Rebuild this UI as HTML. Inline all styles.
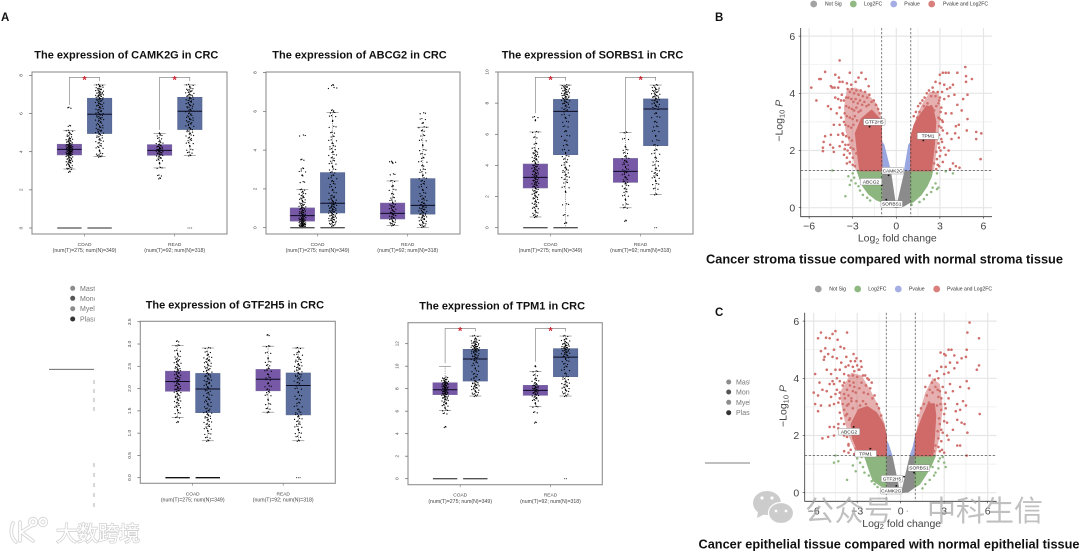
<!DOCTYPE html>
<html lang="zh">
<head>
<meta charset="utf-8">
<title>CRC expression and volcano panels</title>
<style>
html,body{margin:0;padding:0;background:#fff;width:1080px;height:552px;overflow:hidden}
#fig{display:block;filter:blur(.3px)}
text{font-family:"Liberation Sans","Noto Sans CJK SC",sans-serif}
</style>
</head>
<body>
<svg id="fig" xmlns="http://www.w3.org/2000/svg" width="1080" height="552" viewBox="0 0 1080 552">
<rect width="1080" height="552" fill="#fff"/>
<text x="1" y="21" font-size="11.5" font-weight="700" fill="#111">A</text>
<text x="715" y="21" font-size="11.5" font-weight="700" fill="#111">B</text>
<text x="715" y="316" font-size="11.5" font-weight="700" fill="#111">C</text>

<g id="boxplots"></g>
<g id="volcanoes"></g>

<g font-size="5.1" fill="#333">
<circle cx="813.7" cy="4" r="3.4" fill="#a3a3a3"/>
<text x="825" y="5.7">Not Sig</text>
<circle cx="853.3" cy="4" r="3.4" fill="#8fb882"/>
<text x="864" y="5.7">Log2FC</text>
<circle cx="893.7" cy="4" r="3.4" fill="#a4aee4"/>
<text x="904.3" y="5.7">Pvalue</text>
<circle cx="931.7" cy="4" r="3.4" fill="#d9807d"/>
<text x="943" y="5.7">Pvalue and Log2FC</text>
</g>
<g font-size="5.1" fill="#333">
<circle cx="818.3" cy="289" r="3.4" fill="#a3a3a3"/>
<text x="829.3" y="290.7">Not Sig</text>
<circle cx="857.7" cy="289" r="3.4" fill="#8fb882"/>
<text x="868.3" y="290.7">Log2FC</text>
<circle cx="898.3" cy="289" r="3.4" fill="#a4aee4"/>
<text x="909" y="290.7">Pvalue</text>
<circle cx="936.7" cy="289" r="3.4" fill="#d9807d"/>
<text x="947" y="290.7">Pvalue and Log2FC</text>
</g>

<text x="706" y="263.3" font-size="13" font-weight="700" fill="#111" textLength="357" lengthAdjust="spacingAndGlyphs">Cancer stroma tissue compared with normal stroma tissue</text>
<text x="698.5" y="548.3" font-size="13" font-weight="700" fill="#111" textLength="381" lengthAdjust="spacingAndGlyphs">Cancer epithelial tissue compared with normal epithelial tissue</text>

<defs>
<clipPath id="clip-left-frag"><rect x="60" y="280" width="34.7" height="45"/></clipPath>
<clipPath id="clip-right-frag"><rect x="720" y="375" width="30" height="45"/></clipPath>
</defs>
<g clip-path="url(#clip-left-frag)" font-size="7" fill="#777">
<circle cx="72.7" cy="288.3" r="2.5" fill="#8c8c8c"/>
<text x="80" y="290.8">Mast cells</text>
<circle cx="72.7" cy="298.3" r="2.5" fill="#555"/>
<text x="80" y="300.8">Monocytes</text>
<circle cx="72.7" cy="308.7" r="2.5" fill="#8c8c8c"/>
<text x="80" y="311.2">Myeloid</text>
<circle cx="72.7" cy="319" r="2.5" fill="#333"/>
<text x="80" y="321.5">Plasma</text>
</g>
<g clip-path="url(#clip-right-frag)" font-size="7" fill="#777">
<circle cx="728.7" cy="382" r="2.5" fill="#8c8c8c"/>
<text x="736" y="384.5">Mast cells</text>
<circle cx="728.7" cy="392" r="2.5" fill="#555"/>
<text x="736" y="394.5">Monocytes</text>
<circle cx="728.7" cy="402.3" r="2.5" fill="#8c8c8c"/>
<text x="736" y="404.8">Myeloid</text>
<circle cx="728.7" cy="412.7" r="2.5" fill="#333"/>
<text x="736" y="415.2">Plasma</text>
</g>
<line x1="49" y1="369.3" x2="94" y2="369.3" stroke="#555" stroke-width=".8"/>
<line x1="705" y1="463" x2="750" y2="463" stroke="#555" stroke-width=".8"/>
<line x1="94" y1="380" x2="94" y2="413" stroke="#aaa" stroke-width=".9" stroke-dasharray="4 5"/>
<line x1="94" y1="463" x2="94" y2="508" stroke="#aaa" stroke-width=".9" stroke-dasharray="4 6"/>

<g opacity=".72">
<ellipse cx="767" cy="503" rx="14" ry="12" fill="#b9b9b9"/>
<polygon points="758,511 757,518 765,514" fill="#b9b9b9"/>
<ellipse cx="781" cy="513" rx="12.5" ry="10.5" fill="#b9b9b9" stroke="#fff" stroke-width="1.2"/>
<circle cx="762" cy="498" r="1.6" fill="#fff"/>
<circle cx="772" cy="498" r="1.6" fill="#fff"/>
<circle cx="776" cy="511" r="1.4" fill="#fff"/>
<circle cx="786" cy="511" r="1.4" fill="#fff"/>
<text x="805" y="521" font-size="29" fill="#a8a8a8" textLength="88">公众号</text>
<text x="905" y="515" font-size="14" fill="#a8a8a8">·</text>
<text x="927" y="521" font-size="29" fill="#a8a8a8" textLength="116">中科生信</text>
</g>

<g>
<g fill="none" stroke="#d6d6d6" stroke-width="3.6" stroke-linecap="round">
<path d="M13 523 C10 530 11 538 16 542 M20 522 L20 541 M31 526 L21 532 L33 541"/>
<circle cx="33" cy="522" r="3.4"/>
<circle cx="43" cy="522" r="3.4"/>
</g>
<g fill="none" stroke="#fff" stroke-width="1.8" stroke-linecap="round">
<path d="M13 523 C10 530 11 538 16 542 M20 522 L20 541 M31 526 L21 532 L33 541"/>
<circle cx="33" cy="522" r="3.4"/>
<circle cx="43" cy="522" r="3.4"/>
</g>
<text x="56" y="541" font-size="21" fill="#fff" stroke="#cfcfcf" stroke-width="1.4" paint-order="stroke" textLength="84">大数跨境</text>
</g>
</svg>

<script>
/* ---------- shared categories ---------- */
const groupNames = ['COAD', 'READ'];
const sampleNotes = ['(num(T)=275; num(N)=349)', '(num(T)=92; num(N)=318)'];
const boxOrder = ['COAD tumor', 'COAD normal', 'READ tumor', 'READ normal'];

/* ---------- CAMK2G ---------- */
const camk2gTicks = ['0', '2', '4', '6', '8'];
const camk2gQ1 = [3.83, 4.95, 3.81, 5.16];
const camk2gMedian = [4.12, 5.96, 4.07, 6.12];
const camk2gQ3 = [4.39, 6.8, 4.37, 6.85];
const camk2gLow = [3.09, 3.74, 3.15, 3.8];
const camk2gHigh = [5.1, 7.5, 4.96, 7.5];
const camk2gBracket = [[6.45, 7.9, 7.7], [5.14, 7.9, 7.7]];
const camk2gDots0 = [2.95,3.09,3.15,3.25,3.3,3.4,3.45,3.5,3.55,3.6,3.65,3.7,3.75,3.8,3.82,3.85,3.88,3.9,3.93,3.96,3.98,4.0,4.03,4.05,4.08,4.1,4.12,4.15,4.18,4.2,4.22,4.25,4.28,4.3,4.33,4.36,4.4,4.45,4.5,4.55,4.6,4.65,4.7,4.8,4.9,5.0,5.1,5.35,6.3];
const camk2gDots1 = [3.74,3.8,3.9,4.05,4.2,4.3,4.45,4.55,4.65,4.75,4.85,4.92,5.0,5.08,5.15,5.25,5.32,5.4,5.5,5.6,5.68,5.75,5.82,5.9,5.96,6.02,6.1,6.18,6.25,6.33,6.4,6.46,6.52,6.58,6.64,6.7,6.75,6.8,6.85,6.9,6.94,6.98,7.02,7.06,7.1,7.14,7.2,7.25,7.3,7.38,7.45,7.5];
const camk2gDots2 = [2.6,2.75,3.15,3.4,3.55,3.65,3.72,3.8,3.85,3.9,3.95,4.0,4.03,4.07,4.1,4.15,4.2,4.25,4.3,4.37,4.45,4.55,4.7,4.85,4.96];
const camk2gDots3 = [3.8,3.95,4.1,4.3,4.45,4.6,4.72,4.85,4.95,5.05,5.15,5.25,5.35,5.45,5.55,5.65,5.72,5.8,5.9,6.0,6.12,6.2,6.3,6.38,6.45,6.52,6.6,6.68,6.75,6.82,6.9,6.95,7.0,7.08,7.15,7.22,7.3,7.4,7.5];

/* ---------- ABCG2 ---------- */
const abcg2Ticks = ['0', '2', '4', '6', '8'];
const abcg2Q1 = [0.34, 0.76, 0.45, 0.7];
const abcg2Median = [0.62, 1.26, 0.74, 1.15];
const abcg2Q3 = [1.02, 2.84, 1.27, 2.53];
const abcg2Low = [0, 0, 0.12, 0];
const abcg2High = [1.96, 5.94, 2.41, 5.18];
const abcg2Dots0 = [.02,.04,.06,.08,.1,.12,.14,.16,.18,.2,.22,.24,.27,.3,.33,.36,.39,.42,.45,.48,.52,.56,.6,.64,.68,.72,.76,.8,.85,.9,.95,1.0,1.05,1.1,1.16,1.22,1.3,1.38,1.46,1.55,1.65,1.75,1.85,1.96,2.35,2.7,2.9,3.05,3.5,4.75];
const abcg2Dots1 = [.1,.18,.25,.3,.35,.4,.45,.5,.55,.6,.65,.7,.75,.8,.85,.9,.95,1.0,1.05,1.1,1.15,1.2,1.26,1.3,1.38,1.45,1.55,1.65,1.8,1.95,2.1,2.25,2.4,2.55,2.7,2.85,3.0,3.15,3.3,3.45,3.6,3.75,3.9,4.05,4.2,4.35,4.5,4.7,4.9,5.2,5.5,5.75,5.94,6.05,7.2,7.35];
const abcg2Dots2 = [.12,.2,.28,.35,.42,.48,.55,.62,.7,.75,.82,.9,.98,1.05,1.12,1.2,1.3,1.4,1.55,1.75,1.95,2.15,2.41,2.75,3.35,3.4];
const abcg2Dots3 = [.05,.12,.2,.28,.35,.42,.5,.56,.62,.68,.74,.8,.86,.92,.98,1.04,1.1,1.15,1.22,1.3,1.4,1.5,1.62,1.78,1.95,2.1,2.25,2.4,2.55,2.7,2.85,3.0,3.2,3.4,3.6,3.8,4.0,4.25,4.5,4.75,5.0,5.18,5.4,5.6,5.9];

/* ---------- SORBS1 ---------- */
const sorbs1Ticks = ['0', '2', '4', '6', '8', '10'];
const sorbs1Q1 = [2.55, 4.69, 2.91, 5.27];
const sorbs1Median = [3.23, 7.47, 3.62, 7.62];
const sorbs1Q3 = [4.09, 8.24, 4.45, 8.27];
const sorbs1Low = [0.69, 0, 1.28, 2.14];
const sorbs1High = [6.15, 9.16, 6.12, 9.16];
const sorbs1Bracket = [[7.35, 9.66, 9.45], [6.23, 9.66, 9.45]];
const sorbs1Dots0 = [.69,.8,.95,1.1,1.25,1.35,1.5,1.6,1.7,1.85,1.95,2.05,2.15,2.25,2.35,2.45,2.55,2.62,2.7,2.78,2.85,2.92,3.0,3.08,3.15,3.23,3.3,3.38,3.45,3.52,3.6,3.68,3.75,3.82,3.9,3.98,4.05,4.15,4.25,4.35,4.45,4.55,4.65,4.75,4.85,4.95,5.1,5.4,5.8,6.15,6.9,7.1];
const sorbs1Dots1 = [.3,.8,1.5,2.3,2.6,2.9,3.1,3.25,3.4,3.55,3.7,3.85,4.0,4.2,4.4,4.6,4.8,5.0,5.3,5.6,5.9,6.2,6.5,6.8,7.05,7.25,7.47,7.6,7.72,7.84,7.95,8.02,8.1,8.18,8.24,8.3,8.36,8.42,8.48,8.54,8.6,8.66,8.72,8.78,8.84,8.9,8.96,9.02,9.08,9.16];
const sorbs1Dots2 = [.45,1.28,1.5,1.8,2.05,2.3,2.5,2.7,2.85,2.95,3.1,3.25,3.4,3.55,3.62,3.75,3.9,4.05,4.2,4.3,4.45,4.6,4.8,5.0,5.2,5.7,6.12];
const sorbs1Dots3 = [2.14,2.5,2.8,3.0,3.2,3.35,3.5,3.65,3.8,4.0,4.25,4.5,4.75,5.0,5.3,5.6,5.9,6.2,6.5,6.8,7.1,7.35,7.62,7.75,7.85,7.95,8.05,8.15,8.22,8.3,8.38,8.45,8.52,8.6,8.68,8.76,8.84,8.92,9.0,9.16];

/* ---------- GTF2H5 ---------- */
const gtf2h5Ticks = ['0.0', '0.5', '1.0', '1.5', '2.0', '2.5', '3.0', '3.5'];
const gtf2h5Q1 = [1.94, 1.46, 1.95, 1.41];
const gtf2h5Median = [2.16, 1.99, 2.21, 2.07];
const gtf2h5Q3 = [2.39, 2.34, 2.43, 2.35];
const gtf2h5Low = [1.35, 0.83, 1.47, 0.83];
const gtf2h5High = [2.97, 2.91, 2.95, 2.91];
const gtf2h5Dots0 = [1.25,1.35,1.45,1.52,1.58,1.62,1.68,1.72,1.76,1.8,1.84,1.88,1.92,1.95,1.98,2.0,2.03,2.06,2.09,2.12,2.16,2.19,2.22,2.25,2.28,2.31,2.34,2.37,2.4,2.43,2.46,2.5,2.54,2.58,2.62,2.66,2.72,2.78,2.85,2.97,3.06];
const gtf2h5Dots1 = [.83,.9,.98,1.05,1.1,1.15,1.2,1.25,1.3,1.34,1.38,1.42,1.46,1.5,1.55,1.6,1.65,1.7,1.75,1.8,1.85,1.9,1.95,1.99,2.03,2.07,2.11,2.15,2.19,2.23,2.27,2.3,2.34,2.38,2.42,2.46,2.5,2.54,2.58,2.62,2.66,2.7,2.76,2.82,2.91];
const gtf2h5Dots2 = [1.47,1.55,1.65,1.75,1.85,1.92,1.98,2.05,2.12,2.2,2.25,2.32,2.4,2.45,2.52,2.6,2.68,2.8,2.95,3.2];
const gtf2h5Dots3 = [.83,.92,1.0,1.08,1.14,1.2,1.26,1.32,1.38,1.42,1.47,1.53,1.6,1.68,1.76,1.84,1.92,2.0,2.07,2.13,2.18,2.23,2.27,2.31,2.35,2.39,2.43,2.47,2.51,2.55,2.6,2.65,2.7,2.76,2.82,2.91];

/* ---------- TPM1 ---------- */
const tpm1Ticks = ['0', '2', '4', '6', '8', '10', '12'];
const tpm1Q1 = [7.47, 8.68, 7.41, 9.07];
const tpm1Median = [7.91, 10.64, 7.85, 10.81];
const tpm1Q3 = [8.53, 11.5, 8.3, 11.56];
const tpm1Low = [6.07, 7.35, 6.4, 7.35];
const tpm1High = [9.99, 12.68, 9.54, 12.68];
const tpm1Bracket = [[10.25, 13.36, 13.1], [10.4, 13.36, 13.1]];
const tpm1Dots0 = [4.6,5.8,6.07,6.3,6.5,6.65,6.8,6.95,7.05,7.15,7.25,7.32,7.4,7.47,7.54,7.6,7.66,7.72,7.78,7.84,7.91,7.96,8.02,8.08,8.14,8.2,8.26,8.32,8.38,8.44,8.5,8.56,8.62,8.7,8.78,8.88,9.0];
const tpm1Dots1 = [7.35,7.5,7.65,7.8,7.92,8.05,8.15,8.25,8.35,8.45,8.55,8.68,8.85,9.05,9.3,9.55,9.8,10.05,10.3,10.5,10.64,10.75,10.85,10.95,11.05,11.15,11.25,11.32,11.38,11.44,11.5,11.56,11.62,11.68,11.74,11.8,11.88,11.96,12.04,12.12,12.2,12.3,12.45,12.68];
const tpm1Dots2 = [5.0,5.9,6.4,6.7,6.95,7.1,7.25,7.4,7.5,7.6,7.7,7.78,7.85,7.92,8.0,8.08,8.16,8.25,8.35,8.5,8.7,8.9,9.2,9.54,10.0];
const tpm1Dots3 = [7.35,7.55,7.75,7.9,8.05,8.2,8.35,8.5,8.65,8.85,9.07,9.35,9.65,9.95,10.2,10.45,10.65,10.81,10.95,11.05,11.15,11.25,11.35,11.42,11.5,11.56,11.62,11.7,11.78,11.86,11.95,12.05,12.15,12.28,12.42,12.68];

/* zero-expression samples under each box: count of dots, or -1 for a solid run */
const camk2gZeros = [-1, -1, 0, 3];
const abcg2Zeros = [-1, -1, 0, 0];
const sorbs1Zeros = [-1, -1, 0, 2];
const gtf2h5Zeros = [-1, -1, 0, 3];
const tpm1Zeros = [-1, -1, 0, 2];

/* ---------- volcano B ---------- */
const volcanoXTicks = [-6, -3, 0, 3, 6];
const volcanoYTicks = [0, 2, 4, 6];
const volcanoXMinor = [-4.5, -1.5, 1.5, 4.5];
const volcanoYMinor = [1, 3, 5];
const thresholdFc = [-1, 1];
const thresholdP = [1.3];

const bGrayCloud = [[-1,1.3],[-.4,1.3],[-.05,.1],[.05,.1],[.6,1.3],[1,1.3],[1,.2],[.5,.05],[0,0],[-.5,.05],[-1,.25]];
const bBlueCloudLeft = [[-1,2.3],[-.85,2.2],[-.4,1.3],[-1,1.3]];
const bBlueCloudRight = [[1,2.3],[.85,2.2],[.55,1.3],[1,1.3]];
const bGreenCloudLeft = [[-1,1.3],[-2.7,1.3],[-2.5,1.0],[-2.27,.73],[-1.9,.48],[-1.35,.27],[-1,.2]];
const bGreenCloudRight = [[1,1.3],[2.5,1.3],[2.4,1.08],[2.1,.75],[1.7,.45],[1.2,.22],[1,.15]];
const bRedHaloLeft = [[-1,1.3],[-2.8,1.3],[-3.1,2],[-3.5,2.7],[-3.6,3.5],[-3.4,4.15],[-2.8,4.2],[-2,4.0],[-1.3,3.6],[-1,3.1]];
const bRedHaloRight = [[1,1.3],[2.6,1.3],[2.9,2.5],[3.05,3.4],[2.9,4.05],[2.3,4.05],[1.7,3.55],[1.3,3.05],[1,2.45]];
const bRedCloudLeft = [[-1,1.3],[-2.5,1.3],[-2.65,1.9],[-2.8,2.6],[-2.4,3.1],[-1.7,3.4],[-1.05,3.05]];
const bRedCloudRight = [[1,1.3],[2.4,1.3],[2.6,2.2],[2.7,3.0],[2.5,3.5],[2.1,3.55],[1.6,3.2],[1.25,2.9],[1,2.45]];
const bRedPoints = [[-3.9,5.15],[-4.9,4.75],[-4.2,4.65],[-3.95,4.55],[-3.2,4.72],[-2.4,4.72],[-5.3,4.5],[-5.2,4.5],[-5.85,4.2],[-4.5,4.25],[-4.4,4.2],[-4.25,4.2],[-4,4.2],[-3.9,4.4],[-3.7,4.4],[-3.4,4.35],[-3.1,4.3],[-2.8,4.4],[-2.6,4.55],[-2.1,4.5],[-1.9,4.25],[-5.5,3.75],[-4.7,3.55],[-4.5,3.45],[-4.2,3.85],[-4.0,3.8],[-3.8,3.75],[-3.9,3.5],[-4.1,3.3],[-3.8,3.15],[-3.9,2.9],[-4.3,2.9],[-4.5,2.55],[-4.9,2.5],[-5.0,2.3],[-5.05,2.1],[-5.05,1.98],[-4.55,2.2],[-4.35,2.1],[-4.3,1.95],[-3.9,2.15],[-3.6,1.85],[-3.4,1.75],[-3.2,1.6],[-3.0,1.5],[-3.7,2.6],[-3.6,3.0],[-3.55,3.3],[-3.7,2.3],[-3.5,2.2],[-3.2,1.9],[-4.0,2.55],[-3.3,2.2],[-3.6,3.75],[-3.75,3.95],[-3.45,3.85],
[-3.35,4.15],[-3.2,4.05],[-3.05,4.15],[-2.9,4.0],[-2.75,4.1],[-2.6,3.95],[-2.45,4.1],[-2.3,3.9],[-2.15,4.05],[-2.0,3.85],[-1.85,3.95],[-1.7,3.7],[-1.55,3.75],[-1.4,3.6],[-1.25,3.45],[-1.15,3.3],[-3.3,3.85],[-3.1,3.8],[-2.95,3.7],[-2.8,3.8],[-2.65,3.65],[-2.5,3.75],[-2.35,3.6],[-2.2,3.7],[-2.05,3.55],[-1.9,3.6],[-3.45,3.55],[-3.25,3.5],[-3.05,3.45],[-2.9,3.4],[-2.75,3.5],[-2.6,3.35],[-2.45,3.4],[-3.4,3.2],[-3.2,3.15],[-3.0,3.1],[-2.85,3.2],[-2.7,3.05],[-3.5,2.9],[-3.3,2.85],[-3.1,2.8],[-2.95,2.9],[-3.65,2.55],[-3.45,2.5],[-3.25,2.45],[-3.05,2.35],[-3.55,2.05],[-3.35,2.0],[-3.15,2.1],[-2.95,2.05],[-3.4,1.55],[-3.0,1.75],[-2.85,1.45],[-2.75,1.9],
[4.75,4.92],[3.2,4.72],[3.4,4.72],[3.6,4.72],[4.2,4.72],[3.0,4.65],[4.8,4.6],[5.2,4.5],[4.8,4.4],[3.9,4.3],[3.7,4.2],[3.5,4.15],[3.3,4.3],[3.0,4.35],[2.7,4.4],[2.5,4.2],[4.9,3.95],[4.6,3.8],[4.2,3.6],[4.0,3.95],[3.6,3.9],[3.3,3.8],[3.1,3.5],[3.4,3.3],[3.8,3.3],[4.5,3.4],[4.9,3.1],[4.3,2.9],[4.1,2.85],[4.05,2.6],[3.8,2.4],[3.5,2.6],[4.85,2.7],[5.5,2.65],[5.85,2.6],[5.5,2.4],[5.8,1.7],[3.3,2.1],[3.6,2.0],[3.9,1.55],[4.1,1.45],[4.35,1.4],[3.7,1.35],[2.95,2.1],[3.0,1.8],[3.2,1.6],[2.85,1.5],[2.75,1.35],[3.4,1.85],[4.3,2.45],[3.1,2.8],[3.0,3.1],[3.2,3.0],[3.1,2.4],[2.95,3.75],[3.15,4.05],
[1.2,3.2],[1.35,3.35],[1.5,3.55],[1.65,3.65],[1.8,3.75],[1.95,3.85],[2.1,4.0],[2.25,4.1],[2.4,3.9],[2.55,4.05],[2.7,3.9],[2.85,4.05],[3.0,3.85],[2.9,3.65],[2.75,3.55],[3.05,3.35],[2.9,3.15],[3.15,3.05],[2.95,2.85],[3.2,2.7],[2.95,2.55],[3.15,2.3],[2.9,2.25],[2.75,1.95],[3.05,2.0],[2.8,1.7],[2.6,1.55],[2.95,1.45],[1.45,3.15],[1.6,3.35],[1.9,3.55],[2.15,3.65],[2.4,3.55],[2.6,3.4]];
const bGreenPoints = [[-3.5,.4],[-3.2,.8],[-3.1,.95],[-2.9,1.05],[-3,1.2],[-2.8,.85],[-2.6,.75],[-2.5,.6],[-2.3,.45],[-2,.35],[-1.8,.25],[-3.3,1.1],[-4.4,1.3],[2.8,1.2],[2.7,.85],[2.9,.7],[2.8,.65],[2.5,.7],[2.4,.55],[2.1,.45],[1.9,.3],[1.6,.2],[3.4,1.27],[3.9,1.2],[1.05,.1]];
const bCallouts = ['GTF2H5', 'TPM1', 'CAMK2G', 'ABCG2', 'SORBS1'];
const bCalloutFc = [-1.84, 1.86, -.53, -1.0, -.69];
const bCalloutP = [2.83, 2.35, 1.13, .78, .28];

/* ---------- volcano C ---------- */
const cGrayCloud = [[-1,1.3],[-.6,1.3],[-.1,.1],[.1,.1],[.65,1.3],[1,1.3],[1,.2],[.5,.02],[0,0],[-.5,.05],[-1,.25]];
const cBlueCloudLeft = [[-1,1.85],[-.85,1.7],[-.6,1.3],[-1,1.3]];
const cBlueCloudRight = [[1,1.95],[.85,1.6],[.65,1.3],[1,1.3]];
const cGreenCloudLeft = [[-1,1.3],[-2.5,1.3],[-2.3,1.0],[-2.1,.7],[-1.9,.42],[-1.4,.25],[-1,.15]];
const cGreenCloudRight = [[1,1.3],[2.4,1.3],[2.1,.95],[1.7,.6],[1.3,.3],[1,.2]];
const cRedHaloLeft = [[-1,1.3],[-3,1.3],[-3.6,2],[-4,2.8],[-4.2,3.5],[-3.4,4.2],[-2.7,4.1],[-2.1,3.6],[-1.5,3],[-1.1,2.4],[-1,2.05]];
const cRedHaloRight = [[1,1.3],[2.4,1.3],[2.7,2],[2.9,3],[2.7,3.8],[2.2,4],[1.7,3.5],[1.3,2.8],[1.05,2.05]];
const cRedCloudLeft = [[-1,1.3],[-2.8,1.3],[-3.3,1.9],[-3.4,2.4],[-2.9,2.9],[-2.3,3.0],[-1.7,2.8],[-1.2,2.4],[-1,2.0]];
const cRedCloudRight = [[1,1.3],[2.2,1.3],[2.3,1.9],[2.4,2.7],[2.3,3.1],[1.9,3.1],[1.4,2.5],[1.05,2.0]];
const cRedPoints = [[-4.5,5.65],[-4.7,5.55],[-5.5,5.6],[-5.15,5.42],[-5.7,5.4],[-4.9,5.4],[-3.7,5.6],[-4.35,5.35],[-4.15,5.1],[-3.9,5.05],[-5.2,5.05],[-4.6,5.0],[-5.5,4.95],[-5.25,4.75],[-5.3,4.65],[-5.0,4.85],[-4.7,4.75],[-4.4,4.7],[-4.1,4.55],[-3.75,4.75],[-3.25,4.85],[-3.15,4.6],[-3.6,4.45],[-3.3,4.4],[-3.0,4.45],[-2.9,4.3],[-2.6,4.1],[-2.2,3.95],[-2,3.85],[-5.9,4.15],[-5.1,4.3],[-4.8,4.15],[-4.5,4.3],[-4.2,4.3],[-3.9,4.15],[-3.6,4.1],[-3.3,4.1],[-5.6,3.85],[-4.9,3.8],[-4.6,3.8],[-4.2,3.9],[-3.9,3.85],[-3.5,3.75],[-3.2,3.7],[-6,3.5],[-5.7,3.4],[-5.4,3.6],[-5.1,3.55],[-4.8,3.35],[-4.5,3.45],[-4.2,3.5],[-3.9,3.45],[-3.6,3.4],[-3.3,3.55],[-5.9,3.1],[-5.5,3.05],[-5.7,2.85],[-4.9,3.05],[-4.6,3.1],[-4.3,3.15],[-4,3.1],[-3.7,3.05],[-3.4,3.2],[-4.2,2.8],[-3.8,2.7],[-3.5,2.6],[-3.3,2.4],[-3.9,2.4],[-3.4,2.1],[-3.2,1.9],[-4.9,2.3],[-4.6,2.3],[-4.3,2.25],[-5.4,1.9],[-5.0,1.95],[-4.6,2.0],[-3.9,2.0],[-3.6,1.7],[-3.9,1.45],[-3.6,1.4],[-3.1,1.55],[-2.9,1.45],
[-4.4,3.6],[-4.2,3.3],[-4.0,3.75],[-3.85,3.3],[-3.7,3.6],[-3.55,3.9],[-3.4,3.3],[-3.25,3.85],[-3.1,3.5],[-3.0,4.05],[-2.85,3.65],[-2.7,3.85],[-2.55,3.5],[-2.4,3.75],[-2.25,3.45],[-2.1,3.65],[-1.95,3.3],[-1.8,3.4],[-1.65,3.1],[-1.5,2.95],[-1.35,2.7],[-3.6,3.1],[-3.3,2.95],[-3.05,3.2],[-2.8,3.05],[-2.6,3.2],[-2.4,3.1],[-3.9,2.9],[-3.7,2.75],[-3.55,2.55],[-4.1,2.6],[-4.3,2.4],[-2.85,4.3],[-2.7,4.4],[-3.05,4.7],[-2.75,4.6],[-3.45,4.6],[-2.45,4.1],[-2.3,4.0],[-3.8,4.4],[-3.2,4.25],[-4.7,3.9],[-4.4,4.0],[-3.8,2.2],[-3.7,1.95],[-3.6,1.65],[-3.45,1.5],[-3.2,1.35],[-3.5,2.2],
[4.75,5.95],[4.6,5.6],[5.4,5.4],[4.55,5.0],[3.3,5.0],[3.5,5.0],[3,4.85],[2.75,4.9],[3.1,4.8],[3.7,4.8],[4.5,4.75],[4.2,4.7],[3.9,4.55],[3.4,4.55],[3.1,4.4],[2.8,4.4],[2.5,4.25],[5.4,4.45],[5.25,4.3],[3.7,4.35],[3.3,4.2],[3,4.15],[2.6,4],[4.55,3.9],[4.7,3.65],[4.1,3.7],[3.4,3.8],[2.9,3.7],[2.55,3.6],[3.1,3.5],[3.6,3.55],[4.3,3.2],[4.5,3.05],[3.9,3.1],[3.3,3.3],[2.8,3.3],[3.8,2.85],[4.1,2.9],[3.1,2.95],[2.8,2.9],[5.45,2.75],[3.9,2.55],[4.2,2.45],[4.4,2.4],[3,2.5],[3.2,2.45],[2.7,2.4],[3.6,2.2],[2.9,2.1],[3.2,2.0],[4.6,2.1],[3.3,1.85],[2.8,1.8],[2.6,1.6],[2.85,1.5],[3.9,1.65],[4.1,1.65],[4.55,1.3],[3,1.4],
[1.2,2.7],[1.4,2.95],[1.6,3.1],[1.8,3.4],[2.0,3.6],[2.2,3.5],[2.4,3.7],[2.6,3.35],[2.75,3.1],[2.65,2.6],[2.8,2.2],[2.55,2.15],[2.4,1.65],[2.6,1.9],[2.3,1.45],[2.7,1.45],[2.5,3.05],[2.15,3.85],[1.95,3.15],[2.35,3.95],[2.0,4.1],[1.7,3.7],[2.7,3.55],[3.0,2.75],[3.05,3.1]];
const cGreenPoints = [[-4.6,1.05],[-4.3,1.1],[-4.5,1.3],[-3.7,.45],[-3.3,.95],[-3,1.2],[-2.8,1.05],[-2.6,.9],[-2.5,.7],[-2.2,.6],[-2,.4],[-1.8,.3],[-1.6,.2],[-3.1,.75],[-2.7,1.25],[2.7,1.2],[2.9,1.25],[3,1.05],[3.1,.9],[2.6,.85],[2.4,.7],[2.3,.6],[2,.45],[1.7,.3],[1.5,.15],[2.2,.9],[2.6,1.1]];
const cCallouts = ['ABCG2', 'TPM1', 'SORBS1', 'GTF2H5', 'CAMK2G'];
const cCalloutFc = [-3.24, -2.09, .92, .23, -.3];
const cCalloutP = [2.3, 1.54, .7, .56, .24];

/* ---------- layout (pixels) ---------- */
const boxLayout = [
  {id:'camk2g', title:'The expression of CAMK2G in CRC', tx:34.3, tw:184, ty:58.7, l:32, r:227, t:72, b:234, y0:228, unit:19.08, c:[84.5,174.7], ticks:camk2gTicks, q1:camk2gQ1, med:camk2gMedian, q3:camk2gQ3, lo:camk2gLow, hi:camk2gHigh, zeros:camk2gZeros, bracket:camk2gBracket, dots:[camk2gDots0,camk2gDots1,camk2gDots2,camk2gDots3], tickSpan:2},
  {id:'abcg2', title:'The expression of ABCG2 in CRC', tx:272.3, tw:174.4, ty:58.7, l:266, r:460, t:72, b:234, y0:227.7, unit:19.4, c:[317.5,407.7], ticks:abcg2Ticks, q1:abcg2Q1, med:abcg2Median, q3:abcg2Q3, lo:abcg2Low, hi:abcg2High, zeros:abcg2Zeros, bracket:null, dots:[abcg2Dots0,abcg2Dots1,abcg2Dots2,abcg2Dots3], tickSpan:2},
  {id:'sorbs1', title:'The expression of SORBS1 in CRC', tx:501.7, tw:181.6, ty:58.7, l:498, r:693, t:72, b:234, y0:227.7, unit:15.57, c:[550.5,640.6], ticks:sorbs1Ticks, q1:sorbs1Q1, med:sorbs1Median, q3:sorbs1Q3, lo:sorbs1Low, hi:sorbs1High, zeros:sorbs1Zeros, bracket:sorbs1Bracket, dots:[sorbs1Dots0,sorbs1Dots1,sorbs1Dots2,sorbs1Dots3], tickSpan:2},
  {id:'gtf2h5', title:'The expression of GTF2H5 in CRC', tx:145.7, tw:178.3, ty:308.7, l:140.3, r:335.3, t:321.3, b:483.3, y0:477.7, unit:44.56, c:[192.7,283.2], ticks:gtf2h5Ticks, q1:gtf2h5Q1, med:gtf2h5Median, q3:gtf2h5Q3, lo:gtf2h5Low, hi:gtf2h5High, zeros:gtf2h5Zeros, bracket:null, dots:[gtf2h5Dots0,gtf2h5Dots1,gtf2h5Dots2,gtf2h5Dots3], tickSpan:.5},
  {id:'tpm1', title:'The expression of TPM1 in CRC', tx:419.3, tw:165.7, ty:309.3, l:408, r:602.3, t:322.7, b:484.7, y0:478.7, unit:11.25, c:[460.2,550.5], ticks:tpm1Ticks, q1:tpm1Q1, med:tpm1Median, q3:tpm1Q3, lo:tpm1Low, hi:tpm1High, zeros:tpm1Zeros, bracket:tpm1Bracket, dots:[tpm1Dots0,tpm1Dots1,tpm1Dots2,tpm1Dots3], tickSpan:2}
];
const volcanoLayout = [
  {id:'b', l:800.7, r:992, t:28, b:216.7, x0:896.3, xu:14.53, y0:207.7, yu:28.6, ytx:782.5, yty:120.7, xtx:897.3, xty:241.5,
   gray:bGrayCloud, blue:[bBlueCloudLeft,bBlueCloudRight], green:[bGreenCloudLeft,bGreenCloudRight], halo:[bRedHaloLeft,bRedHaloRight], red:[bRedCloudLeft,bRedCloudRight], redPts:bRedPoints, greenPts:bGreenPoints,
   names:bCallouts, fc:bCalloutFc, p:bCalloutP, boxes:[[874.3,122],[928,136],[892.7,170.7],[871,181.7],[891.7,204]]},
  {id:'c', l:804.7, r:996.7, t:312.7, b:501.3, x0:900.7, xu:14.5, y0:492.7, yu:28.6, ytx:786.5, yty:406, xtx:901.7, xty:527,
   gray:cGrayCloud, blue:[cBlueCloudLeft,cBlueCloudRight], green:[cGreenCloudLeft,cGreenCloudRight], halo:[cRedHaloLeft,cRedHaloRight], red:[cRedCloudLeft,cRedCloudRight], redPts:cRedPoints, greenPts:cGreenPoints,
   names:cCallouts, fc:cCalloutFc, p:cCalloutP, boxes:[[849,431.7],[865.7,453.7],[919,468],[892,478.7],[891.3,490.7]]}
];

const SVGNS = 'http://www.w3.org/2000/svg';
function mk(tag, attrs, parent, txt) {
  const node = document.createElementNS(SVGNS, tag);
  for (const k in attrs) node.setAttribute(k, attrs[k]);
  if (txt !== undefined) node.textContent = txt;
  parent.appendChild(node);
  return node;
}

function drawBoxPanel(cfg) {
  const root = mk('g', {}, document.getElementById('boxplots'));
  
  
  const yScale = v => cfg.y0 - v * cfg.unit;
  const xCenter = i => cfg.c[Math.floor(i / 2)] + (i % 2 === 0 ? -15.1 : 15.1);

  const title = mk('text', {x:cfg.tx, y:cfg.ty, 'font-size':11, 'font-weight':700, fill:'#111', textLength:cfg.tw, lengthAdjust:'spacingAndGlyphs'}, root, cfg.title);
  
  

  const frame = mk('rect', {x:cfg.l, y:cfg.t, width:cfg.r - cfg.l, height:cfg.b - cfg.t, fill:'#fff', stroke:'#8f8f8f', 'stroke-width':1.1}, root);
  
  

  cfg.ticks.forEach((label, i) => {
    const y = yScale(i * cfg.tickSpan);
    const tick = mk('line', {x1:cfg.l - 3, x2:cfg.l, y1:y, y2:y, stroke:'#666', 'stroke-width':.7}, root);
    
    
    const tx = mk('text', {x:cfg.l - 10, y:y, 'font-size':4.8, fill:'#444', 'text-anchor':'middle', 'dominant-baseline':'central', transform:'rotate(-90 ' + (cfg.l - 10) + ' ' + y + ')'}, root, label);
    
    
  });

  groupNames.forEach((name, g) => {
    const x = cfg.c[g];
    const tick = mk('line', {x1:x, x2:x, y1:cfg.b, y2:cfg.b + 2.5, stroke:'#777', 'stroke-width':.6}, root);
    
    
    const lab = mk('text', {x:x, y:cfg.b + 12, 'font-size':4.8, fill:'#444', 'text-anchor':'middle'}, root, name);
    
    
    const note = mk('text', {x:x, y:cfg.b + 18.2, 'font-size':5.2, fill:'#444', 'text-anchor':'middle'}, root, sampleNotes[g]);
    
    
  });

  boxOrder.forEach((label, i) => {
    const cx = xCenter(i);
    const half = 12.2;
    const isTumor = i % 2 === 0;
    const group = mk('g', {}, root);
    
    

    const whiskers = [[cfg.q3[i], cfg.hi[i]], [cfg.q1[i], cfg.lo[i]]];
    whiskers.forEach(pair => {
      const w = mk('line', {x1:cx, x2:cx, y1:yScale(pair[0]), y2:yScale(pair[1]), stroke:'#666', 'stroke-width':.6, 'stroke-dasharray':'1.2 1'}, group);
      
      
      const cap = mk('line', {x1:cx - 6, x2:cx + 6, y1:yScale(pair[1]), y2:yScale(pair[1]), stroke:'#8a8a8a', 'stroke-width':.7}, group);
      
      
    });

    const box = mk('rect', {x:cx - half, y:yScale(cfg.q3[i]), width:half * 2, height:yScale(cfg.q1[i]) - yScale(cfg.q3[i]), fill:isTumor ? '#7658a6' : '#5c6f9f', stroke:isTumor ? '#7a6aa0' : '#56668f', 'stroke-width':.6}, group);
    
    

    const spread = isTumor ? 7 : 8.5;
    cfg.dots[i].forEach((v, k) => {
      const j = (((k + 1) * 0.618034) % 1 - 0.5) * spread;
      [[1, 0], [-1, .5], [.35, -.5]].forEach(copy => {
        const dot = mk('circle', {cx:cx + j * copy[0], cy:yScale(v) + copy[1], r:.62, fill:'#000'}, group);
        
        
      });
    });

    const med = mk('line', {x1:cx - half, x2:cx + half, y1:yScale(cfg.med[i]), y2:yScale(cfg.med[i]), stroke:'#0b0b20', 'stroke-width':1}, group);
    
    

    if (cfg.zeros[i] < 0) {
      const run = mk('line', {x1:cx - half, x2:cx + half, y1:yScale(0), y2:yScale(0), stroke:cfg.id === 'gtf2h5' ? '#111' : '#555', 'stroke-width':1.3}, group);
      
      
    } else {
      for (let z = 0; z < cfg.zeros[i]; z++) {
        const zd = mk('circle', {cx:cx - (cfg.zeros[i] - 1) * .9 + z * 1.8, cy:yScale(0), r:.55, fill:'#333'}, group);
        
        
      }
    }
  });

  if (cfg.bracket) {
    cfg.bracket.forEach((b, g) => {
      const xa = xCenter(g * 2);
      const xb = xCenter(g * 2 + 1);
      const br = mk('polyline', {points:xa + ',' + yScale(b[0]) + ' ' + xa + ',' + yScale(b[1]) + ' ' + xb + ',' + yScale(b[1]) + ' ' + xb + ',' + yScale(b[2]), fill:'none', stroke:'#777', 'stroke-width':.6}, root);
      
      
      const star = mk('text', {x:(xa + xb) / 2, y:yScale(b[1]) + 6, 'font-size':11, 'font-weight':700, fill:'#d02b38', 'text-anchor':'middle'}, root, '*');
      
      
    });
  }
}

function drawVolcano(cfg) {
  const root = mk('g', {}, document.getElementById('volcanoes'));
  
  
  const xs = v => cfg.x0 + v * cfg.xu;
  const ys = v => cfg.y0 - v * cfg.yu;
  const pts = arr => arr.map(p => xs(p[0]) + ',' + ys(p[1])).join(' ');

  volcanoXMinor.forEach(v => {
    const g = mk('line', {x1:xs(v), x2:xs(v), y1:cfg.t, y2:cfg.b, stroke:'#eee', 'stroke-width':.7}, root);
    
    
  });
  volcanoYMinor.forEach(v => {
    const g = mk('line', {x1:cfg.l, x2:cfg.r, y1:ys(v), y2:ys(v), stroke:'#eee', 'stroke-width':.7}, root);
    
    
  });
  volcanoXTicks.forEach(v => {
    const g = mk('line', {x1:xs(v), x2:xs(v), y1:cfg.t, y2:cfg.b, stroke:'#e6e6e6', 'stroke-width':1.2}, root);
    
    
    const t = mk('line', {x1:xs(v), x2:xs(v), y1:cfg.b, y2:cfg.b + 2, stroke:'#333', 'stroke-width':.6}, root);
    
    
    const lab = mk('text', {x:xs(v), y:cfg.b + 13, 'font-size':10.5, fill:'#444', 'text-anchor':'middle'}, root, (v < 0 ? '\u2212' + (-v) : String(v)));
    
    
  });
  volcanoYTicks.forEach(v => {
    const g = mk('line', {x1:cfg.l, x2:cfg.r, y1:ys(v), y2:ys(v), stroke:'#e6e6e6', 'stroke-width':1.2}, root);
    
    
    const t = mk('line', {x1:cfg.l - 2, x2:cfg.l, y1:ys(v), y2:ys(v), stroke:'#333', 'stroke-width':.6}, root);
    
    
    const lab = mk('text', {x:cfg.l - 5.5, y:ys(v) + 3.7, 'font-size':10.5, fill:'#444', 'text-anchor':'end'}, root, String(v));
    
    
  });

  const gray = mk('polygon', {points:pts(cfg.gray), fill:'#8b8b8b', stroke:'#8b8b8b', 'stroke-width':.8, 'stroke-linejoin':'round'}, root);
  
  
  cfg.blue.forEach(arr => {
    const c = mk('polygon', {points:pts(arr), fill:'#9aa6e0', stroke:'#9aa6e0', 'stroke-width':.8, 'stroke-linejoin':'round'}, root);
    
    
  });
  cfg.green.forEach(arr => {
    const c = mk('polygon', {points:pts(arr), fill:'#8db57f', stroke:'#8db57f', 'stroke-width':1.2, 'stroke-linejoin':'round'}, root);
    
    
  });
  cfg.halo.forEach(arr => {
    const c = mk('polygon', {points:pts(arr), fill:'#d0706d', 'fill-opacity':.55}, root);
    
    
  });
  cfg.red.forEach(arr => {
    const c = mk('polygon', {points:pts(arr), fill:'#cf6a68', stroke:'#cf6a68', 'stroke-width':1.6, 'stroke-linejoin':'round'}, root);
    
    
  });
  cfg.greenPts.forEach(p => {
    const d = mk('circle', {cx:xs(p[0]), cy:ys(p[1]), r:1.25, fill:'#8fb882'}, root);
    
    
  });
  cfg.redPts.forEach(p => {
    const d = mk('circle', {cx:xs(p[0]), cy:ys(p[1]), r:1.3, fill:'#d0706d'}, root);
    
    
  });

  thresholdFc.forEach(v => {
    const l = mk('line', {x1:xs(v), x2:xs(v), y1:cfg.t, y2:cfg.b, stroke:'#333', 'stroke-width':.6, 'stroke-dasharray':'2.4 1.6'}, root);
    
    
  });
  thresholdP.forEach(v => {
    const l = mk('line', {x1:cfg.l, x2:cfg.r, y1:ys(v), y2:ys(v), stroke:'#333', 'stroke-width':.6, 'stroke-dasharray':'2.4 1.6'}, root);
    
    
  });

  const ax = mk('path', {d:'M' + cfg.l + ' ' + cfg.t + 'V' + cfg.b + 'H' + cfg.r, fill:'none', stroke:'#333', 'stroke-width':.8}, root);
  
  

  cfg.names.forEach((name, i) => {
    const bx = cfg.boxes[i];
    const px = xs(cfg.fc[i]);
    const py = ys(cfg.p[i]);
    const lead = mk('line', {x1:px, y1:py, x2:bx[0], y2:bx[1], stroke:'#333', 'stroke-width':.35}, root);
    
    
    const dot = mk('circle', {cx:px, cy:py, r:.9, fill:'#111'}, root);
    
    
    const rect = mk('rect', {x:bx[0] - 10.8, y:bx[1] - 3.3, width:21.6, height:6.6, rx:.8, fill:'#fff', stroke:'#777', 'stroke-width':.4}, root);
    
    
    const txt = mk('text', {x:bx[0], y:bx[1] + 1.7, 'font-size':4.8, fill:'#222', 'text-anchor':'middle'}, root, name);
    
    
  });

  const xt = mk('text', {x:cfg.xtx, y:cfg.xty, 'font-size':10.5, fill:'#444', 'text-anchor':'middle'}, root);
  
  
  mk('tspan', {}, xt, 'Log');
  mk('tspan', {'font-size':7.5, dy:2}, xt, '2');
  mk('tspan', {dy:-2}, xt, ' fold change');

  const yt = mk('text', {x:cfg.ytx, y:cfg.yty, 'font-size':10.5, fill:'#444', 'text-anchor':'middle', transform:'rotate(-90 ' + cfg.ytx + ' ' + cfg.yty + ')'}, root);
  
  
  mk('tspan', {}, yt, '\u2212Log');
  mk('tspan', {'font-size':7.5, dy:2}, yt, '10');
  mk('tspan', {dy:-2, 'font-style':'italic'}, yt, ' P');
}

boxLayout.forEach(drawBoxPanel);
volcanoLayout.forEach(drawVolcano);
</script>
</body>
</html>
